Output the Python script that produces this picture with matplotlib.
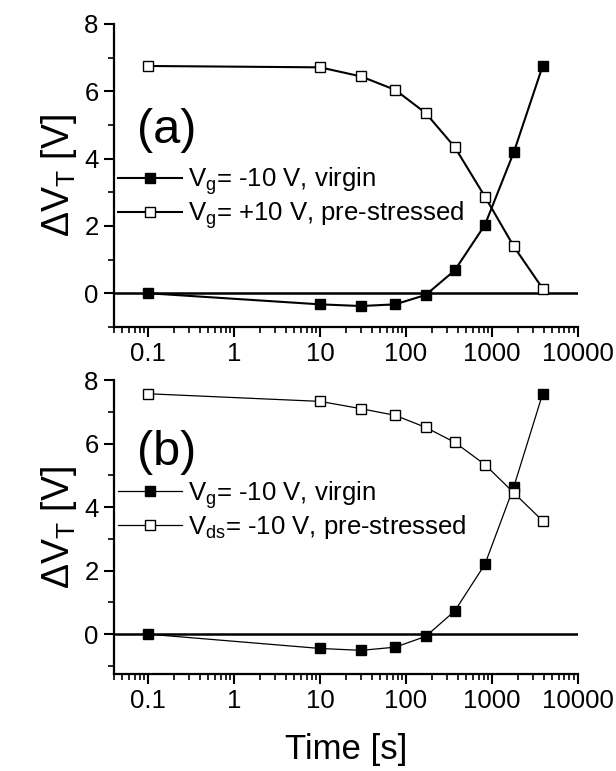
import numpy as np
import matplotlib
matplotlib.use('Agg')
import matplotlib.pyplot as plt

plt.rcParams['font.family'] = ['Liberation Sans', 'DejaVu Sans']
plt.rcParams['mathtext.default'] = 'regular'

# stress time [s]
time_s = [0.1, 10, 30, 75, 170, 370, 830, 1800, 3900]

# panel (a)
a_virgin = [0.0, -0.33, -0.38, -0.33, -0.05, 0.68, 2.03, 4.19, 6.75]
a_prestressed = [6.75, 6.71, 6.44, 6.04, 5.35, 4.34, 2.87, 1.39, 0.14]

# panel (b)
b_virgin = [0.0, -0.45, -0.51, -0.41, -0.07, 0.73, 2.20, 4.64, 7.57]
b_prestressed = [7.57, 7.33, 7.10, 6.89, 6.51, 6.04, 5.34, 4.45, 3.57]

labels_a = [r'V$_{g}$= -10 V, virgin', r'V$_{g}$= +10 V, pre-stressed']
labels_b = [r'V$_{g}$= -10 V, virgin', r'V$_{ds}$= -10 V, pre-stressed']

fig = plt.figure(figsize=(6.16, 7.71), dpi=100)
ax_a = fig.add_axes([0.185, 0.576, 0.753, 0.393])
ax_b = fig.add_axes([0.185, 0.126, 0.753, 0.381])


def style_axis(ax, ymin):
    ax.set_xscale('log')
    ax.set_xlim(0.04, 10000)
    ax.set_ylim(ymin, 8)
    ax.spines['top'].set_visible(False)
    ax.spines['right'].set_visible(False)
    ax.spines['left'].set_linewidth(1.6)
    ax.spines['bottom'].set_linewidth(1.6)
    ax.set_xticks([0.1, 1, 10, 100, 1000, 10000])
    ax.set_xticklabels(['0.1', '1', '10', '100', '1000', '10000'])
    ax.set_yticks([0, 2, 4, 6, 8])
    ax.set_yticks([-1, 1, 3, 5, 7], minor=True)
    ax.tick_params(which='major', direction='out', length=7, width=1.5,
                   labelsize=18.5, pad=4)
    ax.tick_params(which='minor', direction='out', length=4, width=1.2)
    ax.axhline(0, color='black', lw=1.8, zorder=1)
    ax.set_ylabel(r'ΔV$_{T}$ [V]', fontsize=27, labelpad=4)


for ax, ymin, virgin, pre, labels, lw, tag, ty, ly in [
        (ax_a, -1, a_virgin, a_prestressed, labels_a, 1.5, '(a)', 0.647, 0.425),
        (ax_b, -1.25, b_virgin, b_prestressed, labels_b, 0.9, '(b)', 0.755, 0.558)]:
    style_axis(ax, ymin)
    ax.plot(time_s, virgin, color='black', lw=lw, marker='s', ms=7,
            mfc='black', mec='black', mew=1, label=labels[0], zorder=3)
    ax.plot(time_s, pre, color='black', lw=lw, marker='s', ms=7,
            mfc='white', mec='black', mew=1, label=labels[1], zorder=3)
    ax.text(0.05, ty, tag, transform=ax.transAxes, fontsize=35,
            ha='left', va='center')
    ax.legend(loc='center left', bbox_to_anchor=(0.009, ly), frameon=False,
              fontsize=18.5, handlelength=2.5, handletextpad=0.2,
              borderpad=0, borderaxespad=0, labelspacing=0.1)

ax_b.set_xlabel('Time [s]', fontsize=25, labelpad=14)

fig.savefig('out.png', dpi=100)
